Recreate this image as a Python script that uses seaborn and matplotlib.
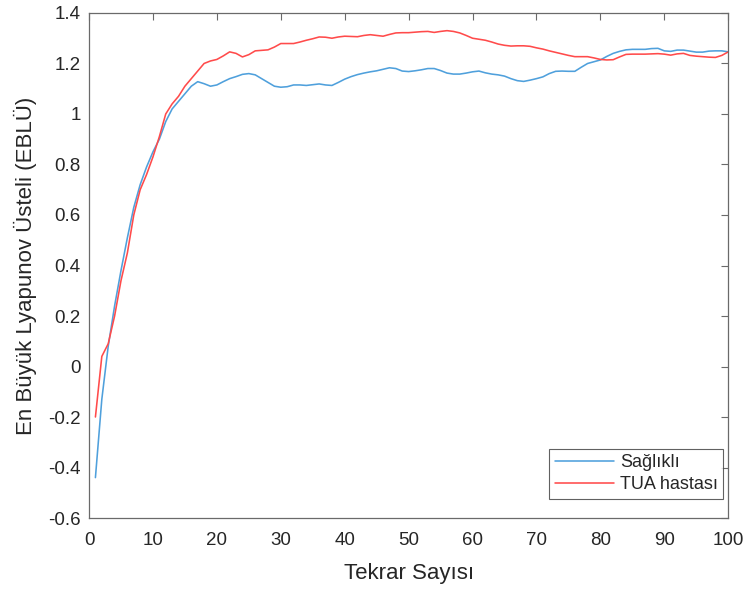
import numpy as np
import pandas as pd
import matplotlib
matplotlib.use("Agg")
import matplotlib.pyplot as plt
import seaborn as sns

tekrar = list(range(1, 101))

saglikli = [
    -0.44, -0.13, 0.08, 0.24, 0.38, 0.51, 0.63, 0.72, 0.79, 0.85,
    0.90, 0.97, 1.02, 1.05, 1.08, 1.11, 1.128, 1.12, 1.11, 1.115,
    1.128, 1.14, 1.148, 1.157, 1.16, 1.155, 1.14, 1.125, 1.11, 1.106,
    1.108, 1.115, 1.115, 1.113, 1.116, 1.119, 1.115, 1.113, 1.125, 1.138,
    1.148, 1.156, 1.162, 1.167, 1.171, 1.177, 1.183, 1.18, 1.17, 1.168,
    1.171, 1.175, 1.18, 1.18, 1.172, 1.162, 1.158, 1.158, 1.162, 1.167,
    1.17, 1.163, 1.158, 1.155, 1.15, 1.14, 1.132, 1.129, 1.134, 1.14,
    1.147, 1.16, 1.169, 1.17, 1.169, 1.169, 1.185, 1.2, 1.207, 1.214,
    1.228, 1.24, 1.248, 1.254, 1.256, 1.256, 1.256, 1.259, 1.26, 1.25,
    1.248, 1.253, 1.253, 1.249, 1.245, 1.245, 1.249, 1.25, 1.25, 1.246,
]

tua = [
    -0.2, 0.04, 0.09, 0.2, 0.34, 0.45, 0.6, 0.7, 0.76, 0.83,
    0.91, 1.0, 1.04, 1.07, 1.11, 1.14, 1.17, 1.2, 1.21, 1.216,
    1.23, 1.246, 1.24, 1.226, 1.235, 1.25, 1.252, 1.254, 1.265, 1.279,
    1.279, 1.279, 1.285, 1.292, 1.298, 1.305, 1.304, 1.3, 1.305, 1.308,
    1.307, 1.306, 1.311, 1.314, 1.311, 1.308, 1.315, 1.321, 1.322, 1.322,
    1.324, 1.326, 1.327, 1.323, 1.327, 1.33, 1.327, 1.321, 1.311, 1.3,
    1.296, 1.292, 1.285, 1.277, 1.272, 1.269, 1.27, 1.27, 1.268, 1.262,
    1.257, 1.25, 1.244, 1.238, 1.232, 1.227, 1.227, 1.227, 1.222, 1.216,
    1.214, 1.215, 1.226, 1.236, 1.237, 1.237, 1.237, 1.238, 1.239, 1.237,
    1.233, 1.238, 1.24, 1.232, 1.229, 1.227, 1.225, 1.224, 1.232, 1.246,
]

gruplar = ["Sağlıklı", "TUA hastası"]
renkler = ["#4FA0DC", "#FF4B4B"]

df = pd.DataFrame({
    "Tekrar Sayısı": tekrar * 2,
    "EBLÜ": saglikli + tua,
    "Grup": [gruplar[0]] * len(tekrar) + [gruplar[1]] * len(tekrar),
})

sns.set_style("white")
plt.rcParams["font.family"] = ["Liberation Sans", "DejaVu Sans"]

fig = plt.figure(figsize=(7.45, 5.9), dpi=100)
ax = fig.add_axes([0.1195, 0.122, 0.858, 0.856])

sns.lineplot(data=df, x="Tekrar Sayısı", y="EBLÜ", hue="Grup",
             palette=dict(zip(gruplar, renkler)), linewidth=1.15, ax=ax)

ax.set_xlim(0, 100)
ax.set_ylim(-0.6, 1.4)
ax.set_xticks(np.arange(0, 101, 10))
ax.set_yticks(np.arange(-0.6, 1.41, 0.2))
ax.set_yticklabels(["-0.6", "-0.4", "-0.2", "0", "0.2", "0.4", "0.6",
                    "0.8", "1", "1.2", "1.4"])
ax.tick_params(direction="in", length=5, width=0.8, color="#6a6a6a",
               labelcolor="#262626", labelsize=13.5, top=True, right=True)
ax.tick_params(axis="x", pad=10)
ax.tick_params(axis="y", pad=6)
for s in ax.spines.values():
    s.set_color("#6a6a6a")
    s.set_linewidth(0.9)

ax.set_xlabel("Tekrar Sayısı", fontsize=16, color="#262626", labelpad=10)
ax.set_ylabel("En Büyük Lyapunov Üsteli (EBLÜ)", fontsize=16,
              color="#262626", labelpad=8)

leg = ax.legend(loc="lower right", fontsize=13, handlelength=3.3,
                frameon=True, fancybox=False, borderpad=0.3,
                labelspacing=0.3, handletextpad=0.3, borderaxespad=0,
                bbox_to_anchor=(0.992, 0.038))
leg.get_frame().set_edgecolor("#3a3a3a")
leg.get_frame().set_linewidth(0.8)

fig.savefig("out.png", dpi=100)
